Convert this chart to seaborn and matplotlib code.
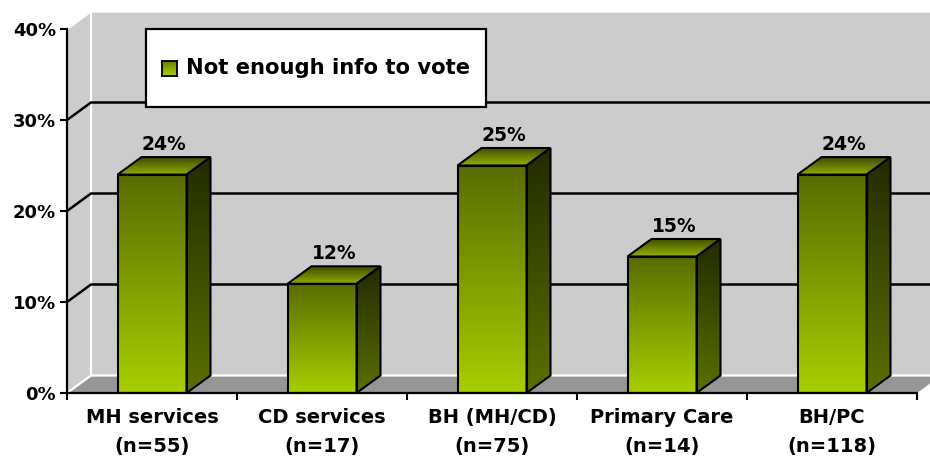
import numpy as np
import matplotlib
matplotlib.use("Agg")
import matplotlib.pyplot as plt
from matplotlib.patches import Polygon, Rectangle
from matplotlib.colors import LinearSegmentedColormap
import seaborn as sns
import pandas as pd

categories = ["MH services\n(n=55)", "CD services\n(n=17)", "BH (MH/CD)\n(n=75)",
              "Primary Care\n(n=14)", "BH/PC\n(n=118)"]
values = [24, 12, 25, 15, 24]
series_name = "Not enough info to vote"
y_ticks = [0, 10, 20, 30, 40]
y_tick_labels = ["0%", "10%", "20%", "30%", "40%"]

plt.rcParams["font.family"] = ["DejaVu Sans"]
plt.rcParams["font.weight"] = "bold"

W, H = 930, 462
fig = plt.figure(figsize=(W / 100, H / 100), dpi=100)
ax = fig.add_axes([67 / W, 69 / H, 850 / W, 364 / H])

df = pd.DataFrame({"group": categories, "pct": values})
sns.barplot(data=df, x="group", y="pct", order=categories, width=69 / 170,
            color="#8aaa00", ax=ax)
bars = list(ax.patches)

# depth of the 3-D effect, in data units
DX = 24 / 170
DY = 17.5 / 9.1
XMIN, XMAX = -0.5, 4.5
XR = XMIN + (W - 67) / 170 + 0.1

FRONT = ("#586c00", "#a8cf00")
SIDE = ("#222b00", "#5b7000")
TOP = ("#3e4c00", "#8fae00")


def gradient(clip, x0, x1, y0, y1, c_top, c_bot, z):
    cmap = LinearSegmentedColormap.from_list("g", [c_bot, c_top])
    g = np.linspace(0, 1, 256).reshape(-1, 1)
    im = ax.imshow(g, cmap=cmap, origin="lower", extent=(x0, x1, y0, y1),
                   aspect="auto", interpolation="bilinear", zorder=z)
    im.set_clip_path(clip)


# back wall, side wall and floor
ax.add_patch(Rectangle((XMIN + DX, DY), XR - XMIN, 40, facecolor="#cccccc",
                       edgecolor="none", zorder=0.5, clip_on=False))
ax.add_patch(Polygon([(XMIN, 0), (XMIN, 40), (XMIN + DX, 40 + DY), (XMIN + DX, DY)],
                     facecolor="#cccccc", edgecolor="none", zorder=0.6, clip_on=False))
ax.add_patch(Polygon([(XMIN, 0), (XMAX, 0), (XMAX + DX, DY), (XMIN + DX, DY)],
                     facecolor="#969696", edgecolor="none", zorder=0.7, clip_on=False))
edge_kw = dict(color="white", lw=1.6, zorder=0.8, clip_on=False, solid_capstyle="butt")
ax.plot([XMIN + DX, XMIN + DX], [DY, 40 + DY], **edge_kw)
ax.plot([XMIN, XMIN + DX, XR], [40, 40 + DY, 40 + DY], **edge_kw)
ax.plot([XMIN, XMIN + DX, XR], [0, DY, DY], **edge_kw)

# gridlines on the walls
for v in y_ticks[1:-1]:
    ax.plot([XMIN, XMIN + DX, XR], [v, v + DY, v + DY], color="black", lw=1.8,
            zorder=1, clip_on=False)

# shaded bars
for bar, v in zip(bars, values):
    x0 = bar.get_x()
    x1 = x0 + bar.get_width()
    h = bar.get_height()
    bar.set_facecolor("none")
    bar.set_edgecolor("black")
    bar.set_linewidth(1.5)
    bar.set_zorder(5)
    gradient(bar, x0, x1, 0, h, FRONT[0], FRONT[1], 4)

    side = Polygon([(x1, 0), (x1 + DX, DY), (x1 + DX, h + DY), (x1, h)], closed=True,
                   facecolor="none", edgecolor="black", lw=1.5, zorder=5,
                   joinstyle="miter")
    ax.add_patch(side)
    gradient(side, x1, x1 + DX, 0, h + DY, SIDE[0], SIDE[1], 4)

    top = Polygon([(x0, h), (x0 + DX, h + DY), (x1 + DX, h + DY), (x1, h)], closed=True,
                  facecolor="none", edgecolor="black", lw=1.5, zorder=5,
                  joinstyle="miter")
    ax.add_patch(top)
    gradient(top, x0, x1 + DX, h, h + DY, TOP[0], TOP[1], 4)

    ax.text((x0 + x1) / 2 + DX / 2, h + DY + 0.35, f"{v}%", ha="center", va="bottom",
            fontsize=13.5, fontweight="bold", zorder=6)

ax.set_xlim(XMIN, XMAX)
ax.set_ylim(0, 40)
ax.set_xlabel("")
ax.set_ylabel("")
for s in ("top", "right"):
    ax.spines[s].set_visible(False)
for s in ("left", "bottom"):
    ax.spines[s].set_linewidth(1.6)
    ax.spines[s].set_color("black")
    ax.spines[s].set_zorder(6)

ax.set_yticks(y_ticks, y_tick_labels)
ax.tick_params(axis="y", length=5, width=1.5, pad=3, labelsize=13)
ax.set_xticks(range(len(categories)), categories)
ax.set_xticks(np.arange(XMIN, XMAX + 0.5, 1), minor=True)
ax.tick_params(axis="x", which="major", length=0, pad=11, labelsize=14)
ax.tick_params(axis="x", which="minor", length=5, width=1.5)
for lbl in ax.get_xticklabels():
    lbl.set_linespacing(1.68)
    lbl.set_fontweight("bold")
for lbl in ax.get_yticklabels():
    lbl.set_fontweight("bold")

# legend box
fig.add_artist(Rectangle((146 / W, 1 - 107 / H), 340 / W, 78 / H, transform=fig.transFigure,
                         facecolor="white", edgecolor="black", lw=1.6, zorder=5))
sw = fig.add_axes([162 / W, 1 - 76 / H, 15 / W, 15 / H])
sw.set_zorder(6)
sw.imshow(np.linspace(0, 1, 64).reshape(-1, 1),
          cmap=LinearSegmentedColormap.from_list("s", ["#6a8200", "#aad200"]),
          aspect="auto", origin="upper")
sw.set_xticks([])
sw.set_yticks([])
for s in sw.spines.values():
    s.set_linewidth(1.3)
    s.set_color("black")
fig.text(186 / W, 1 - 68 / H, series_name, va="center", ha="left", fontsize=15.2,
         fontweight="bold", zorder=7)

fig.savefig("out.png", dpi=100)
